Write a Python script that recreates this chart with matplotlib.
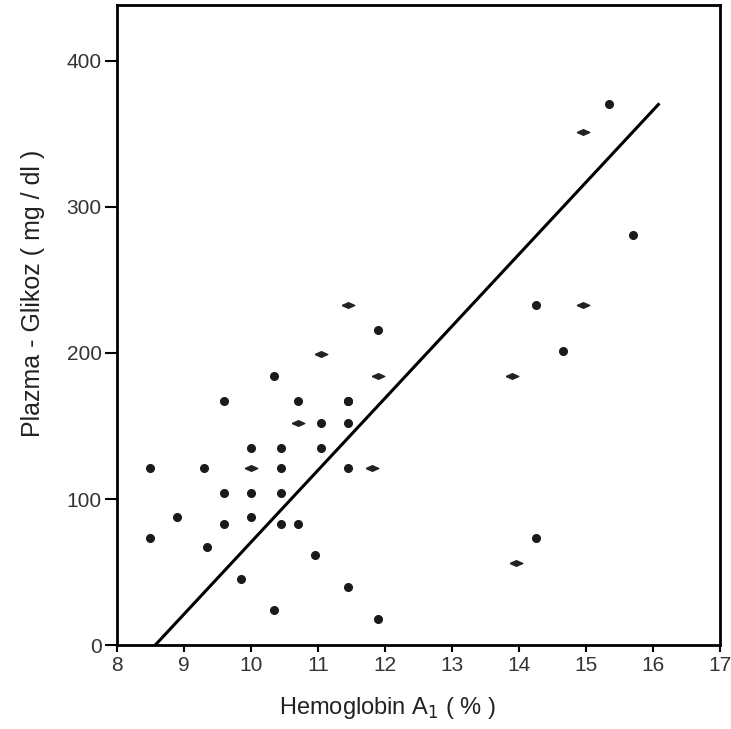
import numpy as np
import matplotlib
matplotlib.use("Agg")
import matplotlib.pyplot as plt

plt.rcParams['font.family'] = ['Liberation Sans', 'DejaVu Sans']

# round dots
hba1 = [8.5, 8.5, 8.9, 9.3, 9.35, 9.6, 9.6, 9.6, 9.85, 10.0, 10.0, 10.0,
        10.35, 10.35, 10.45, 10.45, 10.45, 10.45, 10.7, 10.7, 10.95, 11.05,
        11.05, 11.45, 11.45, 11.45, 11.45, 11.45, 11.9, 11.9,
        14.25, 14.25, 14.65, 15.35, 15.7]
glucose = [121, 73, 88, 121, 67, 167, 104, 83, 45, 135, 104, 88,
           184, 24, 135, 121, 104, 83, 167, 83, 62, 152,
           135, 167, 152, 121, 40, 167, 216, 18,
           233, 73, 201, 370, 281]

# flattened diamond marks
hba1_d = [10.0, 10.7, 11.05, 11.45, 11.8, 11.9, 13.9, 13.95, 14.95, 14.95]
glucose_d = [121, 152, 199, 233, 121, 184, 184, 56, 233, 351]

# regression line end points
line_x = [8.57, 16.08]
line_y = [0, 370]

xticks = [8, 9, 10, 11, 12, 13, 14, 15, 16, 17]
yticks = [0, 100, 200, 300, 400]

fig = plt.figure(figsize=(7.31, 7.29), dpi=100)
ax = fig.add_axes([0.160, 0.115, 0.825, 0.878])

diamond = [(-1, 0), (0, 0.45), (1, 0), (0, -0.45), (-1, 0)]
ax.plot(hba1, glucose, 'o', color='#1a1a1a', markersize=5.5, zorder=3)
ax.plot(hba1_d, glucose_d, linestyle='none', marker=diamond, color='#222222',
        markersize=9, zorder=3)
ax.plot(line_x, line_y, color='black', linewidth=2.2, zorder=2)

ax.set_xlim(8, 17)
ax.set_ylim(0, 438)
ax.set_xticks(xticks)
ax.set_yticks(yticks)
ax.tick_params(axis='y', direction='out', length=9, width=1.5, labelsize=15,
               labelcolor='#333333', pad=2)
ax.tick_params(axis='x', direction='out', length=5, width=1.5, labelsize=15,
               labelcolor='#333333', pad=3)
for s in ax.spines.values():
    s.set_linewidth(2)

ax.set_xlabel('Hemoglobin A$_1$ ( % )', fontsize=17, color='#222222')
ax.set_ylabel('Plazma - Glikoz ( mg / dl )', fontsize=18, color='#222222')
ax.xaxis.set_label_coords(0.449, -0.078)
ax.yaxis.set_label_coords(-0.12, 0.55)

fig.savefig('out.png', dpi=100)
